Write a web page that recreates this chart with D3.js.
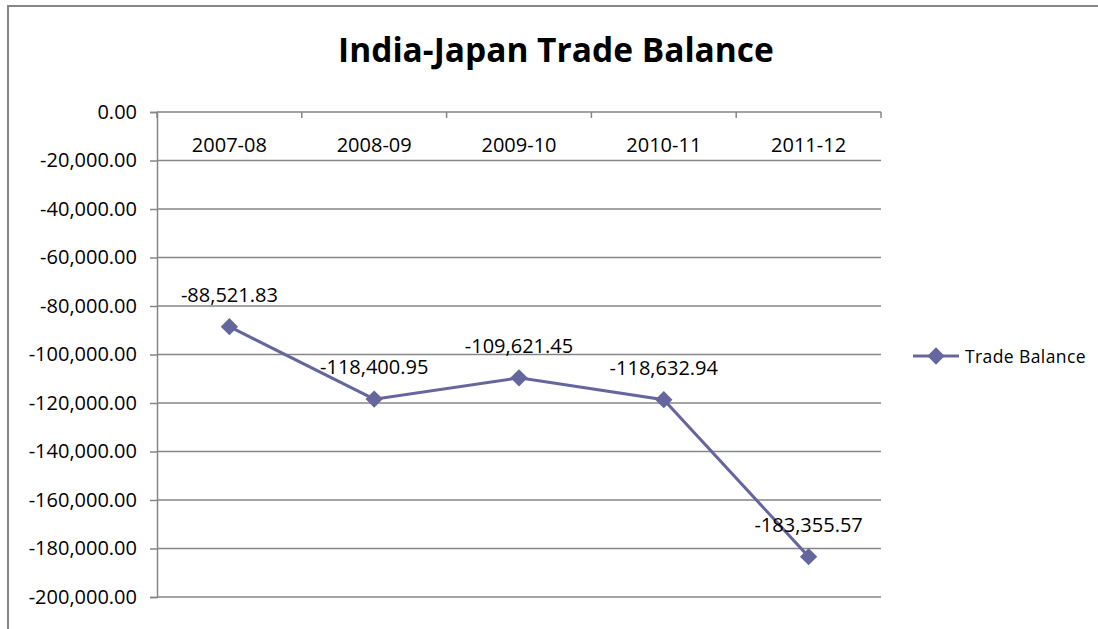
<!DOCTYPE html>
<html>
<head>
<meta charset="utf-8">
<script src="https://cdn.jsdelivr.net/npm/d3@7"></script>
<style>
body { margin: 0; background: #fff; }
text { font-family: "Open Sans", sans-serif; fill: #000; }
</style>
</head>
<body>
<script>
var years = ["2007-08", "2008-09", "2009-10", "2010-11", "2011-12"];
var balance = [-88521.83, -118400.95, -109621.45, -118632.94, -183355.57];
var yTicks = [0, -20000, -40000, -60000, -80000, -100000, -120000, -140000, -160000, -180000, -200000];
var seriesName = "Trade Balance";

var width = 1098;
var height = 629;
var lineColor = "#66669e";
var gridColor = "#868686";

var fmt = d3.formatLocale({decimal: ".", thousands: ",", grouping: [3], currency: ["", ""], minus: "-"}).format(",.2f");

var svg = d3.select("body").append("svg")
	.attr("width", width)
	.attr("height", height);

// outer frame (only top and left visible)
svg.append("rect")
	.attr("x", 8)
	.attr("y", 6)
	.attr("width", 1200)
	.attr("height", 800)
	.attr("fill", "none")
	.attr("stroke", gridColor)
	.attr("stroke-width", 2);

svg.append("text")
	.attr("x", 556)
	.attr("y", 62)
	.attr("text-anchor", "middle")
	.attr("font-size", "33.5px")
	.attr("font-weight", "bold")
	.text("India-Japan Trade Balance");

var x = d3.scaleBand()
	.domain(years)
	.range([157, 881]);

var y = d3.scaleLinear()
	.domain([-200000, 0])
	.range([597, 112]);

// gridlines
svg.selectAll("line.grid")
	.data(yTicks)
	.enter()
	.append("line")
	.attr("class", "grid")
	.attr("x1", 157)
	.attr("x2", 881)
	.attr("y1", function(d) { return y(d); })
	.attr("y2", function(d) { return y(d); })
	.attr("stroke", gridColor)
	.attr("stroke-width", 1.5);

// value axis
var yAxis = svg.append("g")
	.attr("transform", "translate(157,0)")
	.call(d3.axisLeft(y).tickValues(yTicks).tickFormat(fmt).tickSize(7).tickPadding(13));
yAxis.select(".domain").attr("stroke", gridColor).attr("stroke-width", 1.5);
yAxis.selectAll(".tick line").attr("stroke", gridColor).attr("stroke-width", 1.5);
yAxis.selectAll(".tick text").attr("font-size", "20px").attr("font-family", "'Open Sans', sans-serif").attr("fill", "#000");

// category axis at zero, ticks at band edges
svg.selectAll("line.ctick")
	.data(years.concat(["end"]))
	.enter()
	.append("line")
	.attr("class", "ctick")
	.attr("x1", function(d, i) { return i < years.length ? x(d) : x.range()[1]; })
	.attr("x2", function(d, i) { return i < years.length ? x(d) : x.range()[1]; })
	.attr("y1", y(0))
	.attr("y2", y(0) + 6)
	.attr("stroke", gridColor)
	.attr("stroke-width", 1.5);

svg.selectAll("text.cat")
	.data(years)
	.enter()
	.append("text")
	.attr("class", "cat")
	.attr("x", function(d) { return x(d) + x.bandwidth() / 2; })
	.attr("y", 152)
	.attr("text-anchor", "middle")
	.attr("font-size", "20px")
	.text(function(d) { return d; });

var line = d3.line()
	.x(function(d, i) { return x(years[i]) + x.bandwidth() / 2; })
	.y(function(d) { return y(d); });

svg.append("path")
	.datum(balance)
	.attr("d", line)
	.attr("fill", "none")
	.attr("stroke", lineColor)
	.attr("stroke-width", 3);

var diamond = d3.symbol().type(d3.symbolSquare).size(150);

svg.selectAll("path.marker")
	.data(balance)
	.enter()
	.append("path")
	.attr("class", "marker")
	.attr("d", diamond)
	.attr("transform", function(d, i) {
		return "translate(" + (x(years[i]) + x.bandwidth() / 2) + "," + y(d) + ") rotate(45)";
	})
	.attr("fill", lineColor);

svg.selectAll("text.lbl")
	.data(balance)
	.enter()
	.append("text")
	.attr("class", "lbl")
	.attr("x", function(d, i) { return x(years[i]) + x.bandwidth() / 2; })
	.attr("y", function(d) { return y(d) - 25; })
	.attr("text-anchor", "middle")
	.attr("font-size", "20px")
	.text(function(d) { return fmt(d); });

// legend
var legend = svg.append("g").attr("transform", "translate(913,356)");
legend.append("line")
	.attr("x1", 0)
	.attr("x2", 46)
	.attr("stroke", lineColor)
	.attr("stroke-width", 3);
legend.append("path")
	.attr("d", diamond)
	.attr("transform", "translate(23,0) rotate(45)")
	.attr("fill", lineColor);
legend.append("text")
	.attr("x", 52)
	.attr("y", 7)
	.attr("font-size", "17.5px")
	.attr("letter-spacing", "0.4px")
	.text(seriesName);
</script>
</body>
</html>
